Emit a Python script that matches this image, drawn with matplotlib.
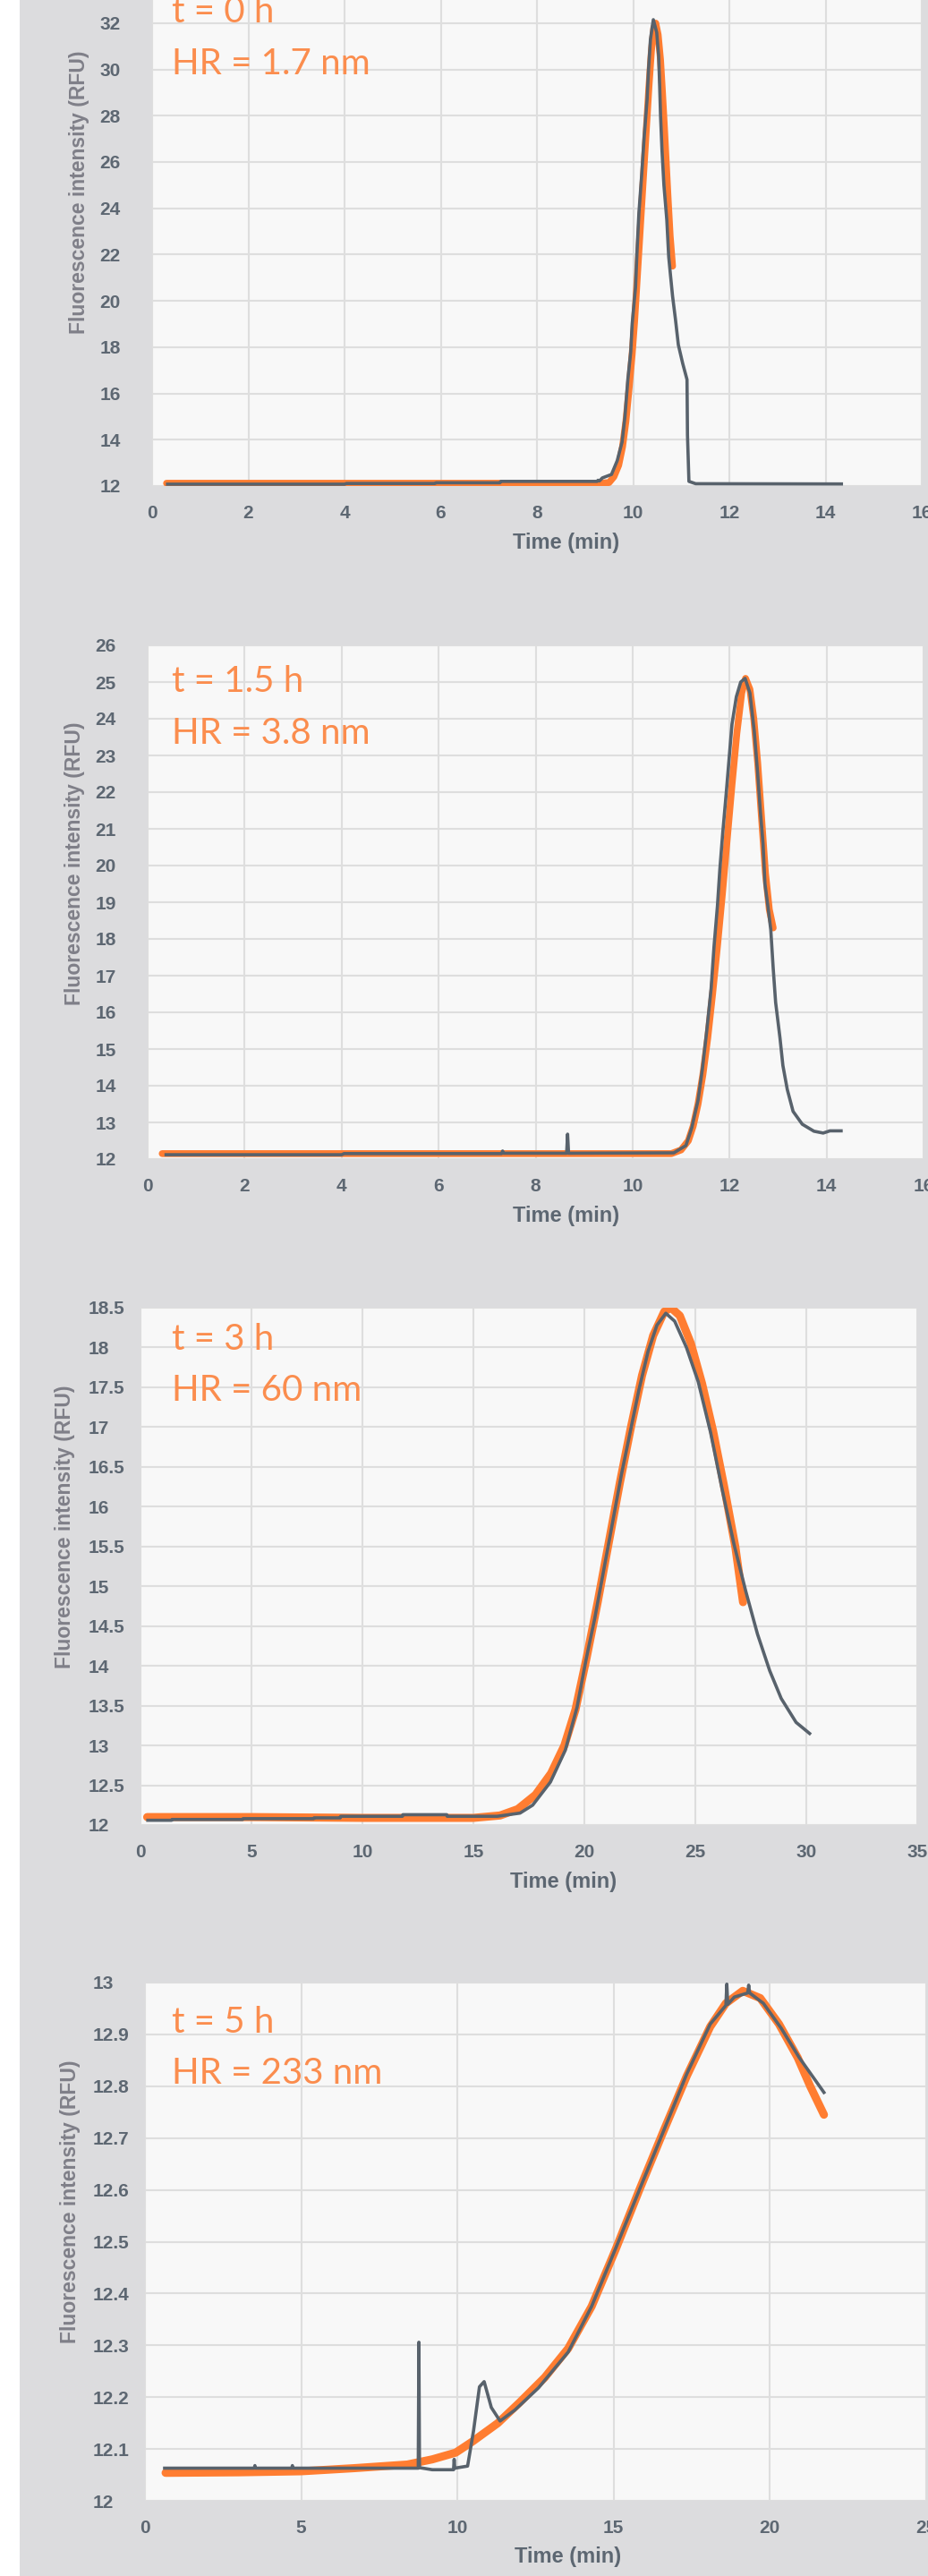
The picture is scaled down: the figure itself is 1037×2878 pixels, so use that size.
import numpy as np
import matplotlib
matplotlib.use("Agg")
import matplotlib.pyplot as plt
from matplotlib.patches import Rectangle

# ---- data ----
# panel 1: t = 0 h
t0_time = [0.32, 4.0, 4.04, 5.88, 5.9, 7.23, 7.25, 9.25, 9.27, 9.3, 9.36, 9.55, 9.67, 9.77, 9.83,
           9.89, 9.95, 9.98, 10.05, 10.08, 10.12, 10.18, 10.23, 10.29, 10.32, 10.36, 10.42, 10.49,
           10.53, 10.55, 10.57, 10.6, 10.64, 10.7, 10.74, 10.77, 10.82, 10.88, 10.94, 11.03, 11.12,
           11.13, 11.16, 11.3, 14.33]
t0_signal = [12.08, 12.08, 12.11, 12.11, 12.14, 12.14, 12.2, 12.2, 12.25, 12.22, 12.35, 12.5, 13.1,
             13.9, 15.0, 16.6, 17.8, 19.0, 20.6, 22.1, 23.8, 25.5, 27.1, 28.7, 30.0, 31.3, 32.15,
             31.6, 30.6, 29.4, 28.0, 26.5, 25.0, 23.5, 21.9, 21.25, 20.2, 19.2, 18.1, 17.3, 16.6,
             14.2, 12.2, 12.1, 12.09]
t0_fit_time = [0.3, 9.3, 9.5, 9.6, 9.7, 9.78, 9.85, 9.92, 9.98, 10.03, 10.08, 10.13, 10.18, 10.23,
               10.28, 10.33, 10.38, 10.43, 10.47, 10.52, 10.57, 10.61, 10.65, 10.69, 10.73, 10.77,
               10.82]
t0_fit = [12.12, 12.12, 12.15, 12.4, 12.9, 13.7, 14.8, 16.3, 17.7, 19.1, 20.8, 22.5, 24.2, 25.9,
          27.6, 29.3, 30.8, 31.8, 32.0, 31.5, 30.4, 29.0, 27.5, 25.9, 24.3, 22.8, 21.5]

# panel 2: t = 1.5 h
t15_time = [0.38, 4.0, 4.05, 7.3, 7.32, 7.34, 8.64, 8.66, 8.68, 10.85, 11.1, 11.22, 11.35, 11.44,
            11.53, 11.62, 11.68, 11.75, 11.8, 11.86, 11.93, 11.99, 12.05, 12.14, 12.23, 12.32,
            12.42, 12.51, 12.58, 12.64, 12.69, 12.73, 12.79, 12.85, 12.9, 12.95, 13.04, 13.1,
            13.19, 13.31, 13.5, 13.74, 13.93, 14.07, 14.3]
t15_signal = [12.12, 12.12, 12.15, 12.15, 12.22, 12.16, 12.16, 12.68, 12.16, 12.17, 12.37, 12.85,
              13.6, 14.46, 15.5, 16.65, 17.8, 18.9, 19.9, 20.9, 21.95, 22.9, 23.85, 24.6, 25.0,
              25.1, 24.7, 23.65, 22.5, 21.4, 20.6, 19.5, 18.9, 18.25, 17.2, 16.27, 15.3, 14.55,
              13.9, 13.3, 12.95, 12.76, 12.71, 12.77, 12.77]
t15_fit_time = [0.3, 10.8, 11.0, 11.15, 11.25, 11.35, 11.45, 11.55, 11.65, 11.75, 11.85, 11.95,
                12.05, 12.15, 12.25, 12.33, 12.42, 12.5, 12.58, 12.66, 12.74, 12.82, 12.9]
t15_fit = [12.15, 12.15, 12.25, 12.5, 12.9, 13.5, 14.3, 15.3, 16.5, 17.8, 19.2, 20.7, 22.2, 23.6,
           24.7, 25.1, 24.8, 24.0, 22.8, 21.3, 19.8, 18.8, 18.3]

# panel 3: t = 3 h
t3_time = [0.33, 1.4, 1.42, 4.6, 4.62, 7.8, 7.82, 9.0, 9.02, 11.8, 11.82, 13.8, 13.82, 16.07, 17.1,
           17.67, 18.47, 19.14, 19.67, 20.07, 20.47, 20.87, 21.27, 21.66, 22.06, 22.46, 22.87,
           23.27, 23.67, 24.07, 24.6, 25.13, 25.69, 26.2, 26.74, 27.27, 27.8, 28.35, 28.87, 29.54,
           30.15]
t3_signal = [12.06, 12.06, 12.07, 12.07, 12.08, 12.08, 12.09, 12.09, 12.11, 12.11, 12.13, 12.13,
             12.11, 12.11, 12.15, 12.25, 12.54, 12.94, 13.48, 14.07, 14.6, 15.2, 15.8, 16.39,
             16.93, 17.47, 17.95, 18.28, 18.43, 18.33, 18.0, 17.57, 16.93, 16.23, 15.53, 14.94,
             14.4, 13.94, 13.59, 13.29, 13.15]
t3_fit_time = [0.3, 5, 10, 15, 16.2, 17, 17.8, 18.5, 19.1, 19.6, 20.1, 20.6, 21.1, 21.6, 22.1, 22.6,
               23.1, 23.6, 23.9, 24.3, 24.8, 25.3, 25.8, 26.3, 26.8, 27.15]
t3_fit = [12.1, 12.1, 12.09, 12.09, 12.12, 12.2, 12.38, 12.65, 13.0, 13.45, 14.1, 14.8, 15.55,
          16.3, 17.0, 17.65, 18.15, 18.45, 18.5, 18.4, 18.05, 17.55, 16.95, 16.25, 15.5, 14.8]

# panel 4: t = 5 h
t5_time = [0.63, 3.5, 3.52, 3.54, 4.7, 4.72, 4.74, 8.75, 8.77, 8.79, 9.2, 9.88, 9.9, 9.92, 10.33,
           10.52, 10.71, 10.86, 11.09, 11.37, 11.84, 12.6, 13.55, 14.3, 15.07, 15.83, 16.58,
           17.35, 18.1, 18.6, 18.63, 18.66, 18.87, 19.3, 19.33, 19.36, 19.8, 20.37, 20.94, 21.74]
t5_signal = [12.063, 12.063, 12.068, 12.063, 12.063, 12.068, 12.063, 12.063, 12.306, 12.064,
             12.06, 12.06, 12.08, 12.063, 12.067, 12.135, 12.22, 12.23, 12.18, 12.154, 12.175,
             12.218, 12.287, 12.375, 12.487, 12.6, 12.71, 12.824, 12.92, 12.956, 12.997, 12.958,
             12.972, 12.98, 12.995, 12.98, 12.96, 12.912, 12.856, 12.788]
t5_fit_time = [0.66, 3, 5, 6.7, 8.4, 9.2, 9.95, 10.5, 11.3, 12.0, 12.8, 13.55, 14.3, 15.07, 15.83,
               16.58, 17.35, 18.1, 18.6, 19.14, 19.7, 20.3, 20.9, 21.3, 21.74]
t5_fit = [12.054, 12.055, 12.057, 12.063, 12.07, 12.08, 12.093, 12.115, 12.15, 12.19, 12.238,
          12.294, 12.375, 12.485, 12.6, 12.71, 12.82, 12.915, 12.96, 12.984, 12.97, 12.92, 12.855,
          12.8, 12.745]

labels_time = ["t = 0 h", "t = 1.5 h", "t = 3 h", "t = 5 h"]
labels_hr = ["HR = 1.7 nm", "HR = 3.8 nm", "HR = 60 nm", "HR = 233 nm"]

W, H = 1037, 2878
BG = "#dcdcde"
FACE = "#f8f8f8"
GRID = "#dedede"
TICK = "#5d6772"
GREY_LINE = "#58626c"
ORANGE = "#ff7d31"
TEXT_ORANGE = "#fb8d4e"

fig = plt.figure(figsize=(W / 100, H / 100), dpi=100)
fig.patch.set_facecolor("white")
fig.patches.append(Rectangle((22 / W, 0), 1 - 22 / W, 1, transform=fig.transFigure,
                             facecolor=BG, edgecolor="none", zorder=-10))


def px_axes(left, right, top, bottom):
    return fig.add_axes([left / W, 1 - bottom / H, (right - left) / W, (bottom - top) / H])


def style(ax, xlim, ylim, xticks, yticks):
    ax.set_facecolor(FACE)
    ax.set_xlim(*xlim)
    ax.set_ylim(*ylim)
    ax.set_xticks(xticks)
    ax.set_yticks(yticks)
    ax.set_yticklabels([f"{v:g}" for v in yticks])
    ax.grid(True, color=GRID, linewidth=1.5)
    ax.set_axisbelow(True)
    for s in ax.spines.values():
        s.set_visible(False)
    ax.tick_params(axis="both", length=0, labelsize=15, labelcolor=TICK)
    ax.tick_params(axis="x", pad=15)
    ax.tick_params(axis="y", pad=42)
    for lab in ax.get_xticklabels() + ax.get_yticklabels():
        lab.set_fontfamily("Liberation Sans")
        lab.set_fontweight("bold")
    for lab in ax.get_yticklabels():
        lab.set_horizontalalignment("left")


panels = [
    dict(box=(170, 1030, 0, 543), xlim=(0, 16), ylim=(12, 33.0), xt=np.arange(0, 17, 2),
         yt=np.arange(12, 33, 2), x=t0_time, y=t0_signal, fx=t0_fit_time, fy=t0_fit,
         ylab=(89, 215), xlab=(633, 606), txt=(192, 25, 83), lw_fit=5.5),
    dict(box=(165, 1032, 721, 1295), xlim=(0, 16), ylim=(12, 26), xt=np.arange(0, 17, 2),
         yt=np.arange(12, 27, 1), x=t15_time, y=t15_signal, fx=t15_fit_time, fy=t15_fit,
         ylab=(84, 965), xlab=(633, 1358), txt=(192, 773, 831), lw_fit=5.5),
    dict(box=(157, 1025, 1461, 2039), xlim=(0, 35), ylim=(12, 18.5), xt=np.arange(0, 36, 5),
         yt=np.round(np.arange(12, 18.51, 0.5), 1), x=t3_time, y=t3_signal, fx=t3_fit_time,
         fy=t3_fit, ylab=(73, 1706), xlab=(630, 2103), txt=(192, 1508, 1565), lw_fit=6.5),
    dict(box=(162, 1034.5, 2215, 2794), xlim=(0, 25), ylim=(12, 13), xt=np.arange(0, 26, 5),
         yt=np.round(np.arange(12, 13.01, 0.1), 1), x=t5_time, y=t5_signal, fx=t5_fit_time,
         fy=t5_fit, ylab=(79, 2460), xlab=(635, 2856), txt=(192, 2271, 2328), lw_fit=6.5),
]

for i, p in enumerate(panels):
    ax = px_axes(*p["box"])
    style(ax, p["xlim"], p["ylim"], p["xt"], p["yt"])
    ax.plot(p["fx"], p["fy"], color=ORANGE, lw=p["lw_fit"], solid_capstyle="round", zorder=2)
    ax.plot(p["x"], p["y"], color=GREY_LINE, lw=2.6, zorder=3)

    lx, ly = p["ylab"]
    fig.text(lx / W, 1 - ly / H, "Fluorescence intensity (RFU)", rotation=90, ha="center",
             va="center", fontsize=16.5, fontweight="bold", color="#7f7f88",
             family="Liberation Sans")
    tx, ty = p["xlab"]
    fig.text(tx / W, 1 - ty / H, "Time (min)", ha="center", va="center", fontsize=17,
             fontweight="bold", color=TICK, family="Liberation Sans")
    ax_x, b1, b2 = p["txt"]
    fig.text(ax_x / W, 1 - b1 / H, labels_time[i], ha="left", va="baseline", fontsize=29,
             color=TEXT_ORANGE, family="Lato")
    fig.text(ax_x / W, 1 - b2 / H, labels_hr[i], ha="left", va="baseline", fontsize=29,
             color=TEXT_ORANGE, family="Lato")

fig.savefig("out.png", dpi=100, facecolor=fig.get_facecolor())
